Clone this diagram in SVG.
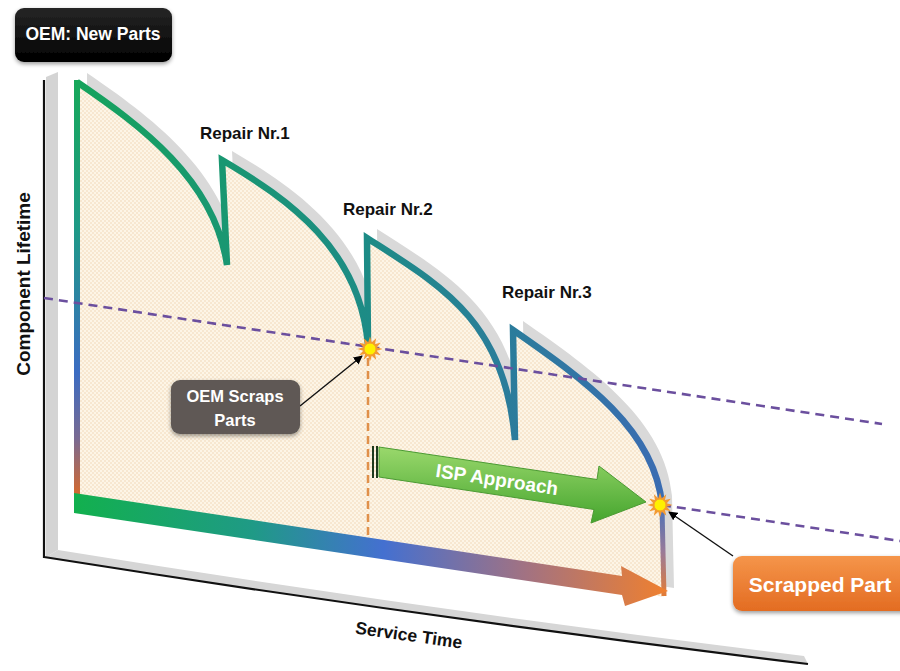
<svg xmlns="http://www.w3.org/2000/svg" width="900" height="671" viewBox="0 0 900 671">
<defs>
  <style>
    .lbl{font-family:"Liberation Sans",Arial,sans-serif;font-weight:bold;fill:#111;}
    .wt{font-family:"Liberation Sans",Arial,sans-serif;font-weight:bold;fill:#fff;}
    .dash{fill:none;stroke:#6b4f9e;stroke-width:2.6;stroke-dasharray:9 6;}
    .ptr{fill:none;stroke:#111;stroke-width:1.4;marker-end:url(#ah);}
  </style>
  <pattern id="dots" width="4" height="4" patternUnits="userSpaceOnUse">
    <rect width="4" height="4" fill="#fdf5e6"/>
    <circle cx="1" cy="1" r="0.75" fill="#eed4b0"/>
    <circle cx="3" cy="3" r="0.75" fill="#eed4b0"/>
  </pattern>
  <linearGradient id="gCurve" gradientUnits="userSpaceOnUse" x1="77" y1="0" x2="662" y2="0">
    <stop offset="0" stop-color="#15a35c"/>
    <stop offset="0.5" stop-color="#1d8b86"/>
    <stop offset="1" stop-color="#3a6cb2"/>
  </linearGradient>
  <linearGradient id="gLeft" gradientUnits="userSpaceOnUse" x1="0" y1="82" x2="0" y2="497">
    <stop offset="0" stop-color="#17a85a"/>
    <stop offset="0.35" stop-color="#1e9a86"/>
    <stop offset="0.7" stop-color="#3b6cc2"/>
    <stop offset="0.86" stop-color="#7a6a92"/>
    <stop offset="1" stop-color="#d8692a"/>
  </linearGradient>
  <linearGradient id="gBottom" gradientUnits="userSpaceOnUse" x1="75" y1="0" x2="668" y2="0">
    <stop offset="0" stop-color="#12b04e"/>
    <stop offset="0.3" stop-color="#1f9a86"/>
    <stop offset="0.52" stop-color="#4470d0"/>
    <stop offset="0.76" stop-color="#a27282"/>
    <stop offset="1" stop-color="#f0802e"/>
  </linearGradient>
  <linearGradient id="gRight" gradientUnits="userSpaceOnUse" x1="0" y1="507" x2="0" y2="597">
    <stop offset="0" stop-color="#4a72b8"/>
    <stop offset="0.5" stop-color="#9a7a98"/>
    <stop offset="1" stop-color="#e47c34"/>
  </linearGradient>
  <linearGradient id="gGreen" x1="0" y1="0" x2="0" y2="1">
    <stop offset="0" stop-color="#9ad86c"/>
    <stop offset="1" stop-color="#45a52e"/>
  </linearGradient>
  <linearGradient id="gOrange" x1="0" y1="0" x2="0" y2="1">
    <stop offset="0" stop-color="#f5954a"/>
    <stop offset="1" stop-color="#e36c22"/>
  </linearGradient>
  <linearGradient id="gBlack" x1="0" y1="0" x2="0" y2="1">
    <stop offset="0" stop-color="#262626"/>
    <stop offset="1" stop-color="#000"/>
  </linearGradient>
  <filter id="soft" x="-10%" y="-10%" width="120%" height="130%">
    <feGaussianBlur in="SourceAlpha" stdDeviation="2"/>
    <feOffset dx="0" dy="2"/>
    <feComponentTransfer><feFuncA type="linear" slope="0.4"/></feComponentTransfer>
    <feMerge><feMergeNode/><feMergeNode in="SourceGraphic"/></feMerge>
  </filter>
  <marker id="ah" viewBox="0 0 10 10" refX="9" refY="5" markerWidth="9" markerHeight="9" orient="auto" markerUnits="userSpaceOnUse">
    <path d="M0,0 L10,5 L0,10 Z" fill="#000"/>
  </marker>
  <g id="burst">
    <polygon points="12.5,0 6.76,1.81 10.83,6.25 4.95,4.95 6.25,10.83 1.81,6.76 0,12.5 -1.81,6.76 -6.25,10.83 -4.95,4.95 -10.83,6.25 -6.76,1.81 -12.5,0 -6.76,-1.81 -10.83,-6.25 -4.95,-4.95 -6.25,-10.83 -1.81,-6.76 0,-12.5 1.81,-6.76 6.25,-10.83 4.95,-4.95 10.83,-6.25 6.76,-1.81" fill="#f39a32"/>
    <circle r="6" fill="#fff000" stroke="#f2a12a" stroke-width="1"/>
  </g>
</defs>
<rect width="900" height="671" fill="#fff"/>

<g id="axes">
  <polygon points="46,77 58,72 58,550 46,557" fill="#d4d4d4"/>
  <path d="M46,557 Q422,617 808,664 L804,656 Q422,609 58,550 Z" fill="#d6d6d6"/>
  <path d="M44,80 L44,557 Q422,617 808,664" fill="none" stroke="#111" stroke-width="2.2"/>
</g>

<g id="lifetime-area">
  <path transform="translate(10,-9)" d="M77,82 C140,125 215,180 227,265 L222,160 C290,200 360,250 368,345 L367,238 C440,285 505,320 515,440 L513,330 C585,380 655,430 662,505 L664,597 L77,507 Z" fill="#d9d9d9"/>
  <path d="M77,82 C140,125 215,180 227,265 L222,160 C290,200 360,250 368,345 L367,238 C440,285 505,320 515,440 L513,330 C585,380 655,430 662,505 L664,597 L77,507 Z" fill="url(#dots)"/>
  <path d="M77,82 C140,125 215,180 227,265 L222,160 C290,200 360,250 368,345 L367,238 C440,285 505,320 515,440 L513,330 C585,380 655,430 662,505" fill="none" stroke="url(#gCurve)" stroke-width="6.5" stroke-linejoin="miter" stroke-miterlimit="10"/>
  <line x1="77" y1="80" x2="77" y2="497" stroke="url(#gLeft)" stroke-width="6"/>
  <line x1="662" y1="507" x2="664" y2="596" stroke="url(#gRight)" stroke-width="5"/>
  <polygon points="74,493 622,576 621,566 668,591 625,606 622,595 74,513" fill="url(#gBottom)"/>
</g>

<g id="connectors">
  <line class="dash" x1="44" y1="298" x2="882" y2="424"/>
  <line class="dash" x1="662" y1="505" x2="900" y2="541"/>
  <line x1="368" y1="358" x2="368" y2="540" stroke="#e0904a" stroke-width="2.5" stroke-dasharray="8 5"/>
  <line class="ptr" x1="300" y1="406" x2="362" y2="356"/>
  <line class="ptr" x1="733" y1="556" x2="669" y2="512"/>
</g>

<g id="isp-approach">
  <polygon points="379,447 597,479.5 599,466 646,502 591,523 594,509.5 379,477" fill="url(#gGreen)" stroke="#4b9a33" stroke-width="1"/>
  <line x1="373" y1="446" x2="373" y2="478" stroke="#1d3a1d" stroke-width="2"/>
  <line x1="377" y1="446" x2="377" y2="478" stroke="#1d3a1d" stroke-width="2"/>
  <text class="wt" font-size="19" text-anchor="middle" transform="translate(496,486) rotate(8.5)">ISP Approach</text>
</g>

<g id="star-oem"><use href="#burst" x="370" y="349"/></g>
<g id="star-scrapped"><use href="#burst" x="660" y="505"/></g>

<g id="oem-new-parts">
  <rect x="15" y="8" width="157" height="54" rx="9" fill="url(#gBlack)" filter="url(#soft)"/>
  <text class="wt" font-size="17.5" x="93" y="40" text-anchor="middle">OEM: New Parts</text>
</g>

<g id="oem-scraps">
  <rect x="171" y="380" width="129" height="54" rx="9" fill="#5e5954" filter="url(#soft)"/>
  <text class="wt" font-size="16.5" x="235" y="402" text-anchor="middle">OEM Scraps</text>
  <text class="wt" font-size="16.5" x="235" y="426" text-anchor="middle">Parts</text>
</g>

<g id="scrapped-part">
  <rect x="733" y="556" width="180" height="55" rx="9" fill="url(#gOrange)" filter="url(#soft)"/>
  <text class="wt" font-size="21" x="820" y="592" text-anchor="middle">Scrapped Part</text>
</g>

<g id="labels">
  <text class="lbl" font-size="17" x="200" y="139">Repair Nr.1</text>
  <text class="lbl" font-size="17" x="343" y="215">Repair Nr.2</text>
  <text class="lbl" font-size="17" x="502" y="298">Repair Nr.3</text>
  <text class="lbl" font-size="19" text-anchor="middle" transform="translate(30,284) rotate(-90)">Component Lifetime</text>
  <text class="lbl" font-size="17.5" text-anchor="middle" transform="translate(408,641) rotate(8)">Service Time</text>
</g>
</svg>
